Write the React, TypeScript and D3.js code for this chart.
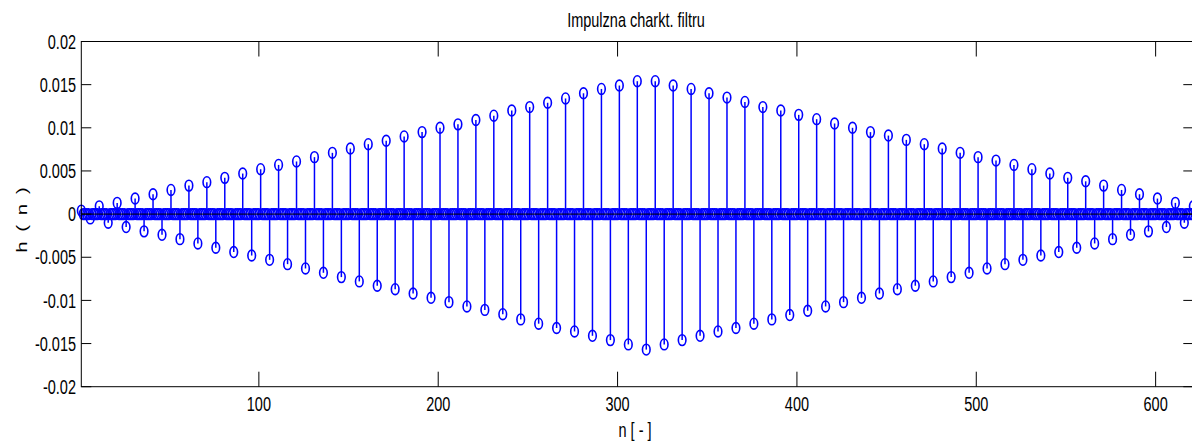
import React, { useEffect, useRef } from "react";
import * as d3 from "d3";

// sample range shown on the axis
const nFirst = 1;
const nLast = 621;

// positive stems (n, h)
const posN = [
  1, 11, 21, 31, 41, 51, 61, 71, 81, 91, 101, 111, 121, 131, 141, 151, 161,
  171, 181, 191, 201, 211, 221, 231, 241, 251, 261, 271, 281, 291, 301, 311,
  321, 331, 341, 351, 361, 371, 381, 391, 401, 411, 421, 431, 441, 451, 461,
  471, 481, 491, 501, 511, 521, 531, 541, 551, 561, 571, 581, 591, 601, 611,
  621
];
const posH = [
  0.0004, 0.0009, 0.0013, 0.0018, 0.0023, 0.0028, 0.0033, 0.0037, 0.0042,
  0.0047, 0.0052, 0.0057, 0.0061, 0.0066, 0.0071, 0.0076, 0.0081, 0.0085,
  0.009, 0.0095, 0.01, 0.0104, 0.0109, 0.0114, 0.012, 0.0124, 0.0129, 0.0134,
  0.014, 0.0145, 0.0149, 0.0154, 0.0154, 0.0149, 0.0145, 0.014, 0.0135, 0.013,
  0.0124, 0.012, 0.0115, 0.011, 0.0105, 0.01, 0.0095, 0.0091, 0.0086, 0.0081,
  0.0076, 0.0071, 0.0066, 0.0062, 0.0057, 0.0052, 0.0047, 0.0042, 0.0038,
  0.0033, 0.0028, 0.0023, 0.0018, 0.0013, 0.0009
];

// negative stems (n, h)
const negN = [
  6, 16, 26, 36, 46, 56, 66, 76, 86, 96, 106, 116, 126, 136, 146, 156, 166,
  176, 186, 196, 206, 216, 226, 236, 246, 256, 266, 276, 286, 296, 306, 316,
  326, 336, 346, 356, 366, 376, 386, 396, 406, 416, 426, 436, 446, 456, 466,
  476, 486, 496, 506, 516, 526, 536, 546, 556, 566, 576, 586, 596, 606, 616
];
const negH = [
  -0.0005, -0.001, -0.0015, -0.002, -0.0024, -0.0029, -0.0034, -0.0039,
  -0.0044, -0.0048, -0.0053, -0.0058, -0.0063, -0.0068, -0.0073, -0.0078,
  -0.0083, -0.0087, -0.0092, -0.0097, -0.0102, -0.0107, -0.0111, -0.0116,
  -0.0122, -0.0127, -0.0132, -0.0136, -0.0141, -0.0146, -0.0151, -0.0157,
  -0.0151, -0.0146, -0.0141, -0.0136, -0.0132, -0.0127, -0.0122, -0.0117,
  -0.0112, -0.0107, -0.0102, -0.0097, -0.0092, -0.0087, -0.0083, -0.0078,
  -0.0073, -0.0068, -0.0063, -0.0058, -0.0053, -0.0048, -0.0044, -0.0039,
  -0.0034, -0.0029, -0.0024, -0.002, -0.0015, -0.001
];

const xTicks = [100, 200, 300, 400, 500, 600];
const yTicks = [-0.02, -0.015, -0.01, -0.005, 0, 0.005, 0.01, 0.015, 0.02];
const yTickLabels = ["-0.02", "-0.015", "-0.01", "-0.005", "0", "0.005", "0.01", "0.015", "0.02"];

const titleText = "Impulzna charkt. filtru";
const xLabelText = "n [ - ]";
const yLabelText = "h ( n )";

const W = 1192;
const H = 446;
const FONT = "'Liberation Sans', Arial, sans-serif";

export default function App() {
  const ref = useRef<SVGSVGElement>(null);

  useEffect(() => {
    const svg = d3.select(ref.current);
    svg.selectAll("*").remove();

    const x = d3.scaleLinear().domain([nFirst, nLast]).range([81.3, 1193.3]);
    const y = d3.scaleLinear().domain([-0.02, 0.02]).range([386.7, 41.5]);
    const [x0, x1] = x.range();
    const [yb, yt] = y.range();

    svg.append("rect").attr("width", W).attr("height", H).attr("fill", "#fff");

    // all samples: nonzero stems plus zero samples in between
    const stems: [number, number][] = [];
    posN.forEach((n, i) => stems.push([n, posH[i]]));
    negN.forEach((n, i) => stems.push([n, negH[i]]));
    const used = new Set(stems.map(d => d[0]));
    const zeros: [number, number][] = d3
      .range(nFirst, nLast + 1)
      .filter(n => !used.has(n))
      .map(n => [n, 0]);
    const all = zeros.concat(stems);

    const g = svg.append("g");

    g.append("g")
      .selectAll("line")
      .data(stems)
      .enter()
      .append("line")
      .attr("x1", d => x(d[0]))
      .attr("x2", d => x(d[0]))
      .attr("y1", y(0))
      .attr("y2", d => y(d[1]))
      .attr("stroke", "#0000ff")
      .attr("stroke-width", 1.5);

    g.append("g")
      .selectAll("ellipse")
      .data(all)
      .enter()
      .append("ellipse")
      .attr("cx", d => x(d[0]))
      .attr("cy", d => y(d[1]))
      .attr("rx", 3.8)
      .attr("ry", 5.4)
      .attr("fill", "none")
      .attr("stroke", "#0000ff")
      .attr("stroke-width", 1.6);

    // baseline
    g.append("line")
      .attr("x1", x0)
      .attr("x2", x1)
      .attr("y1", y(0))
      .attr("y2", y(0))
      .attr("stroke", "#000")
      .attr("stroke-width", 1);

    // box + ticks
    const axis = svg.append("g").attr("stroke", "#000").attr("stroke-width", 1).attr("fill", "none");
    axis.append("rect")
      .attr("x", x0)
      .attr("y", yt)
      .attr("width", x1 - x0)
      .attr("height", yb - yt);

    xTicks.forEach(t => {
      axis.append("line").attr("x1", x(t)).attr("x2", x(t)).attr("y1", yb).attr("y2", yb - 15);
      axis.append("line").attr("x1", x(t)).attr("x2", x(t)).attr("y1", yt).attr("y2", yt + 15);
    });
    yTicks.forEach(t => {
      axis.append("line").attr("x1", x0).attr("x2", x0 + 10).attr("y1", y(t)).attr("y2", y(t));
      axis.append("line").attr("x1", x1).attr("x2", x1 - 10).attr("y1", y(t)).attr("y2", y(t));
    });

    const txt = svg.append("g")
      .attr("font-family", FONT)
      .attr("font-size", 14.5)
      .attr("fill", "#000");

    xTicks.forEach(t => {
      txt.append("text")
        .attr("text-anchor", "middle")
        .attr("transform", `translate(${x(t)},411) scale(1,1.4)`)
        .text(t);
    });
    yTicks.forEach((t, i) => {
      txt.append("text")
        .attr("text-anchor", "end")
        .attr("transform", `translate(76,${y(t) + 7.2}) scale(1,1.4)`)
        .text(yTickLabels[i]);
    });

    txt.append("text")
      .attr("text-anchor", "middle")
      .attr("transform", `translate(636,26.5) scale(1,1.4)`)
      .text(titleText);
    txt.append("text")
      .attr("text-anchor", "middle")
      .attr("transform", `translate(635,436.5) scale(1,1.4)`)
      .text(xLabelText);
    txt.append("text")
      .attr("text-anchor", "middle")
      .attr("letter-spacing", 1.5)
      .attr("transform", `translate(26.5,219) rotate(-90) scale(1.4,1)`)
      .text(yLabelText);
  }, []);

  return (
    <svg
      ref={ref}
      width={W}
      height={H}
      style={{ position: "absolute", left: 0, top: 0, display: "block" }}
    />
  );
}
